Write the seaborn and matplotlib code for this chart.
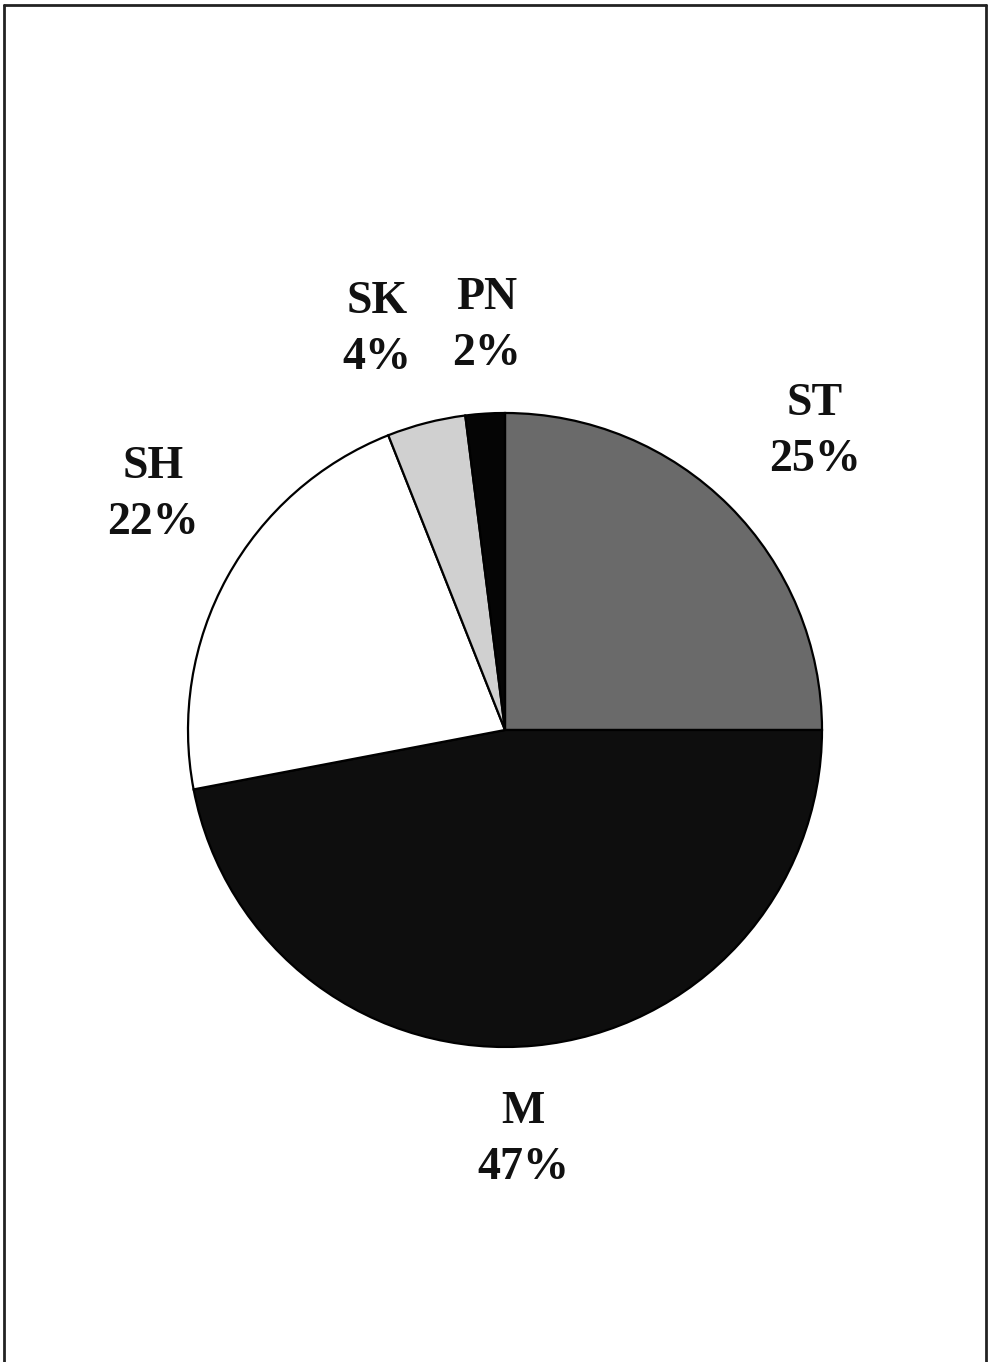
import matplotlib
matplotlib.use("Agg")
import matplotlib.pyplot as plt
import seaborn as sns
from matplotlib.lines import Line2D

categories = ["ST", "M", "SH", "SK", "PN"]
values = [25, 47, 22, 4, 2]
colors = ["#6a6a6a", "#0e0e0e", "#ffffff", "#d0d0d0", "#050505"]

sns.set_theme(style="white")
plt.rcParams['font.family'] = ['Liberation Serif', 'DejaVu Serif']

fig = plt.figure(figsize=(9.88, 13.62), dpi=100)
ax = fig.add_axes([0, 0, 1, 1])
ax.pie(values, colors=colors, startangle=90, counterclock=False, radius=1.0,
       wedgeprops=dict(edgecolor="black", linewidth=1.6))
ax.set_xlim(-505 / 317, (988 - 505) / 317)
ax.set_ylim((730 - 1362) / 317, 730 / 317)
ax.set_aspect("auto")
ax.axis("off")

label_pos = {"ST": (0.978, 0.94), "M": (0.057, -1.293), "SH": (-1.11, 0.741),
             "SK": (-0.404, 1.262), "PN": (-0.057, 1.274)}
for cat, val in zip(categories, values):
    x, y = label_pos[cat]
    ax.text(x, y, f"{cat}\n{val}%", ha="center", va="center", fontsize=33,
            fontweight="bold", linespacing=1.45, color="#111111")

# frame
lw = 2.0
fig.add_artist(Line2D([4 / 988, 986 / 988], [1 - 5 / 1362, 1 - 5 / 1362], color="#222222", lw=lw, transform=fig.transFigure))
fig.add_artist(Line2D([4 / 988, 4 / 988], [0, 1 - 5 / 1362], color="#222222", lw=lw, transform=fig.transFigure))
fig.add_artist(Line2D([986 / 988, 986 / 988], [0, 1 - 5 / 1362], color="#222222", lw=lw, transform=fig.transFigure))

fig.savefig("out.png", dpi=100, facecolor="white")
